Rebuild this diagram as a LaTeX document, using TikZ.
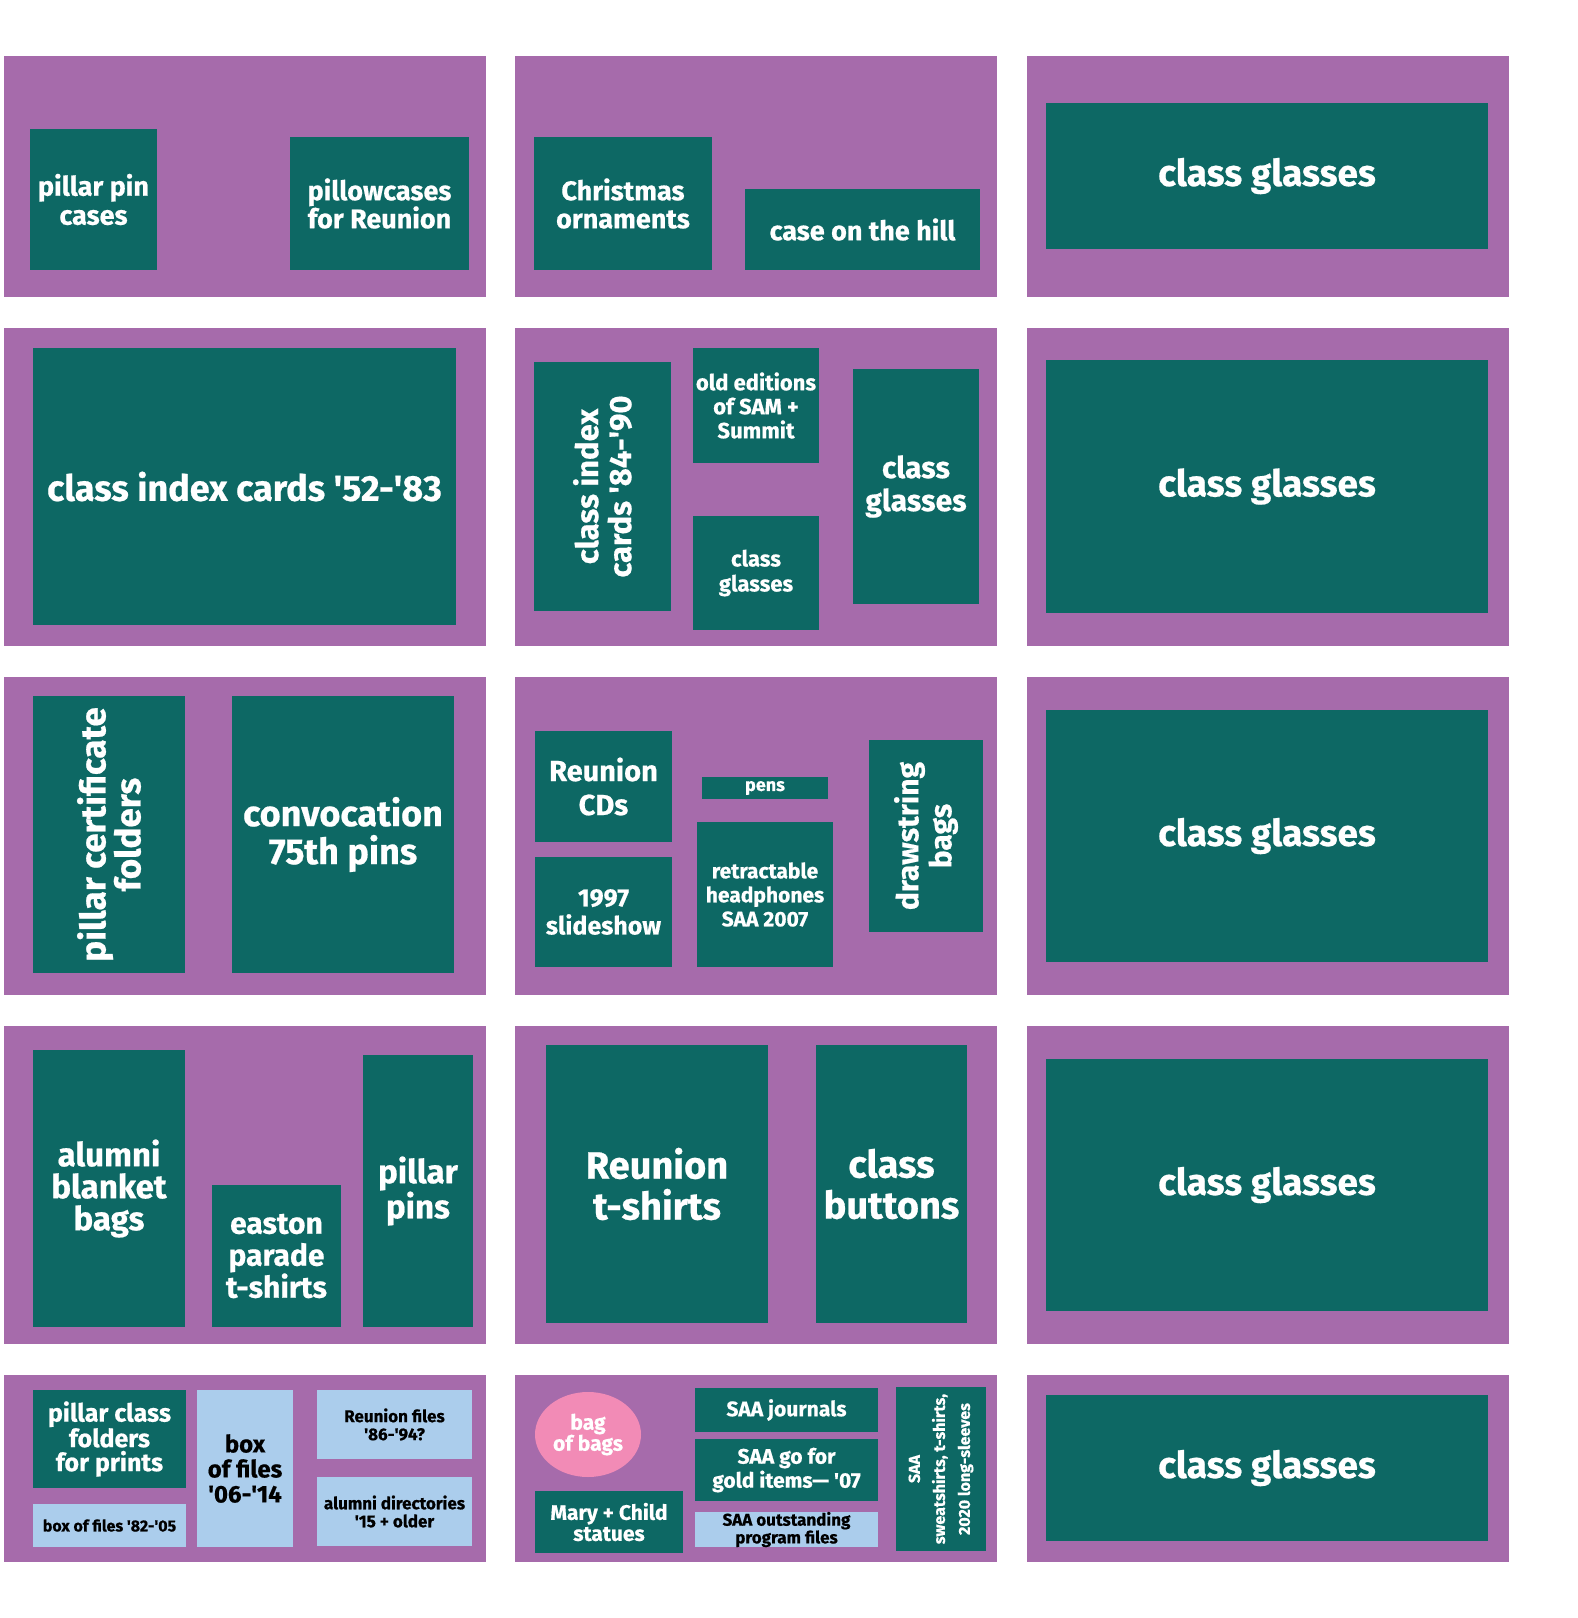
\documentclass[tikz,border=0pt]{standalone}
\usepackage{fontspec}
\setmainfont{Fira Sans}[BoldFeatures={FakeBold=0.6}]
\usepackage{xcolor}
\definecolor{cBay}{HTML}{A66BAB}
\definecolor{cCrate}{HTML}{0D6864}
\definecolor{cFile}{HTML}{ABCDEC}
\definecolor{cSack}{HTML}{F28BB6}
\usepackage{tikz}
\usetikzlibrary{shapes.geometric}
\newcommand{\yr}{\textquotesingle}
\tikzset{
  shelf-bay/.style={fill=cBay,draw=none,inner sep=0pt,minimum width=482pt},
  item-box/.style={fill=cCrate,text=white,inner sep=0pt,align=center},
  item-file/.style={fill=cFile,text=black,inner sep=0pt,align=center},
  item-bag/.style={ellipse,fill=cSack,text=white,inner sep=0pt,align=center},
  txt/.style 2 args={font=\bfseries\fontsize{#1}{#2}\selectfont},
}

\begin{document}
\begin{tikzpicture}[x=1pt,y=-1pt]
  \useasboundingbox (0,0) rectangle (1578,1618);
  % shelf bays, three columns by five rows
  \foreach \r/\top/\ht in {1/56/241,2/328/318,3/677/318,4/1026/318,5/1375/187}
    \foreach \c/\lft in {a/4,b/515,c/1027}
      \node[shelf-bay,minimum height=\ht pt,anchor=north west] (bay-\c\r) at (\lft,\top) {};

  % row 1
  \node[item-box,txt={27}{29},minimum width=127,minimum height=141] (pinCases) at (93.5,199.5) {pillar pin\\cases};
  \node[item-box,txt={27}{28},minimum width=179,minimum height=133] (pillowcases) at (379.5,203.5) {pillowcases\\for Reunion};
  \node[item-box,txt={27}{28},minimum width=178,minimum height=133] (ornaments) at (623,203.5) {Christmas\\ornaments};
  \node[item-box,txt={27}{28},minimum width=235,minimum height=81] (caseHill) at (862.5,229.5) {case on the hill};
  \node[item-box,txt={37}{40},minimum width=442,minimum height=146] (glassesA) at (1267,176) {class glasses};

  % row 2
  \node[item-box,txt={36}{38},minimum width=423,minimum height=277] (indexEarly) at (244.5,486.5) {class index cards \yr52-\yr83};
  \node[item-box,txt={31}{33},rotate=90,minimum width=249,minimum height=137] (indexLate) at (602.5,486.5) {class index\\cards \yr84-\yr90};
  \node[item-box,txt={22}{24},minimum width=126,minimum height=115] (oldEditions) at (756,405.5) {old editions\\of SAM +\\Summit};
  \node[item-box,txt={22}{25},minimum width=126,minimum height=114] (glassesSmall) at (756,573) {class\\glasses};
  \node[item-box,txt={30}{33},minimum width=126,minimum height=235] (glassesTall) at (916,486.5) {class\\glasses};
  \node[item-box,txt={37}{40},minimum width=442,minimum height=253] (glassesB) at (1267,486.5) {class glasses};

  % row 3
  \node[item-box,txt={35}{35},rotate=90,minimum width=277,minimum height=152] (certFolders) at (109,834.5) {pillar certificate\\folders};
  \node[item-box,txt={36}{38},minimum width=222,minimum height=277] (convocation) at (343,834.5) {convocation\\75th pins};
  \node[item-box,txt={29}{34},minimum width=137,minimum height=111] (reunionCDs) at (603.5,786.5) {Reunion\\CDs};
  \node[item-box,txt={25}{28},minimum width=137,minimum height=110] (slideshow) at (603.5,912) {1997\\slideshow};
  \node[item-box,txt={18}{20},minimum width=126,minimum height=22] (pens) at (765,788) {pens};
  \node[item-box,txt={21}{24},minimum width=136,minimum height=145] (headphones) at (765,894.5) {retractable\\headphones\\SAA 2007};
  \node[item-box,txt={30}{33},rotate=90,minimum width=192,minimum height=114] (drawstring) at (926,836) {drawstring\\bags};
  \node[item-box,txt={37}{40},minimum width=442,minimum height=252] (glassesC) at (1267,836) {class glasses};

  % row 4
  \node[item-box,txt={33}{32},minimum width=152,minimum height=277] (blanketBags) at (109,1188.5) {alumni\\blanket\\bags};
  \node[item-box,txt={30}{32},minimum width=129,minimum height=142] (eastonShirts) at (276.5,1256) {easton\\parade\\t-shirts};
  \node[item-box,txt={33}{32},minimum width=110,minimum height=272] (pillarPins) at (418,1191) {pillar\\pins};
  \node[item-box,txt={38}{41},minimum width=222,minimum height=278] (reunionShirts) at (657,1184) {Reunion\\t-shirts};
  \node[item-box,txt={38}{41},minimum width=151,minimum height=278] (classButtons) at (891.5,1184) {class\\buttons};
  \node[item-box,txt={37}{40},minimum width=442,minimum height=252] (glassesD) at (1267,1185) {class glasses};

  % row 5
  \node[item-box,txt={25}{24},minimum width=153,minimum height=98] (printFolders) at (109.5,1439) {pillar class\\folders\\for prints};
  \node[item-file,txt={16}{17},minimum width=153,minimum height=43] (files8205) at (109.5,1525.5) {box of files \yr82-\yr05};
  \node[item-file,txt={24}{25},minimum width=96,minimum height=157] (files0614) at (245,1468.5) {box\\of files\\\yr06-\yr14};
  \node[item-file,txt={17}{18},minimum width=155,minimum height=69] (reunionFiles) at (394.5,1424.5) {Reunion files\\\yr86-\yr94?};
  \node[item-file,txt={17}{18},minimum width=155,minimum height=69] (directories) at (394.5,1511.5) {alumni directories\\\yr15 + older};
  \node[item-bag,txt={21}{21},minimum width=106,minimum height=85] (bagOfBags) at (588,1434.5) {bag\\of bags};
  \node[item-box,txt={21}{21},minimum width=148,minimum height=62] (maryChild) at (609,1522) {Mary + Child\\statues};
  \node[item-box,txt={21}{23},minimum width=183,minimum height=44] (saaJournals) at (786.5,1410) {SAA journals};
  \node[item-box,txt={21}{24},minimum width=183,minimum height=62] (goForGold) at (786.5,1470) {SAA go for\\gold items— \yr07};
  \node[item-file,txt={17}{15},minimum width=183,minimum height=35] (outstanding) at (786.5,1529.5) {SAA outstanding\\program files};
  \node[item-box,txt={16}{25},rotate=90,minimum width=164,minimum height=90] (sweatshirts) at (941,1469) {SAA\\sweatshirts, t-shirts,\\2020 long-sleeves};
  \node[item-box,txt={37}{40},minimum width=442,minimum height=146] (glassesE) at (1267,1468) {class glasses};
\end{tikzpicture}
\end{document}
